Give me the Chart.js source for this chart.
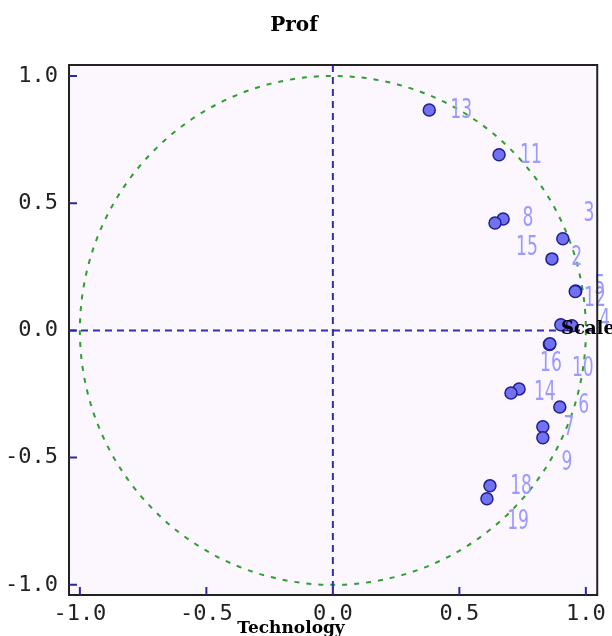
<!DOCTYPE html>
<html>
<head>
<meta charset="utf-8">
<script src="https://cdn.jsdelivr.net/npm/chart.js@4"></script>
<style>
  html, body { margin: 0; padding: 0; background: #fff; }
  #wrap { width: 612px; height: 636px; }
</style>
</head>
<body>
<div id="wrap"><canvas id="chart" width="612" height="636"></canvas></div>
<script>
// --- loadings (variable 1..19) on the two components ---
const varLabels = ['1', '2', '3', '4', '5', '6', '7', '8', '9', '10',
                   '11', '12', '13', '14', '15', '16', '17', '18', '19'];
const loadX = [0.945, 0.866, 0.909, 0.901, 0.960, 0.897, 0.830, 0.673, 0.830, 0.856,
               0.657, 0.958, 0.381, 0.736, 0.641, 0.858, 0.704, 0.621, 0.609];
const loadY = [0.018, 0.281, 0.360, 0.022, 0.155, -0.301, -0.379, 0.438, -0.422, -0.055,
               0.690, 0.153, 0.866, -0.230, 0.422, -0.053, -0.246, -0.611, -0.662];
// where each number label sits (data units); '' = not visible in the picture
const labelText = ['', '2', '3', '4', '5', '6', '7', '8', '9', '10',
                   '11', '12', '13', '14', '15', '16', '', '18', '19'];
const labelX = [1.08, 0.964, 1.012, 1.075, 1.055, 0.992, 0.933, 0.771, 0.925, 0.988,
                0.783, 1.036, 0.507, 0.838, 0.767, 0.862, 0.80, 0.744, 0.732];
const labelY = [0.000, 0.289, 0.462, 0.041, 0.175, -0.293, -0.379, 0.442, -0.517, -0.147,
                0.690, 0.128, 0.866, -0.242, 0.328, -0.128, -0.25, -0.611, -0.752];
const tickValues = [-1.0, -0.5, 0.0, 0.5, 1.0];

const points = loadX.map((x, i) => ({ x, y: loadY[i] }));

const decor = {
    id: 'decor',
    beforeDraw(chart) {
        const { ctx, chartArea: a } = chart;
        ctx.save();
        ctx.fillStyle = '#ffffff';
        ctx.fillRect(0, 0, chart.width, chart.height);
        ctx.fillStyle = '#fcf7ff';
        ctx.fillRect(a.left, a.top, a.right - a.left, a.bottom - a.top);
        ctx.restore();
    },
    beforeDatasetsDraw(chart) {
        const { ctx, chartArea: a, scales: { x, y } } = chart;
        const x0 = x.getPixelForValue(0), y0 = y.getPixelForValue(0);
        ctx.save();
        // unit circle
        ctx.strokeStyle = '#2f9e2f';
        ctx.lineWidth = 2;
        ctx.setLineDash([5, 7]);
        ctx.beginPath();
        ctx.ellipse(x0, y0, x.getPixelForValue(1) - x0, y0 - y.getPixelForValue(1), 0, 0, Math.PI * 2);
        ctx.stroke();
        // zero axes
        ctx.strokeStyle = '#3030a8';
        ctx.setLineDash([7, 5]);
        ctx.beginPath();
        ctx.moveTo(a.left, y0); ctx.lineTo(a.right, y0);
        ctx.moveTo(x0, a.top); ctx.lineTo(x0, a.bottom);
        ctx.stroke();
        ctx.restore();
    },
    afterDatasetsDraw(chart) {
        const { ctx, chartArea: a, scales: { x, y } } = chart;
        ctx.save();
        // variable numbers (tall, narrow digits)
        ctx.fillStyle = '#9a9aff';
        ctx.font = "26px 'DejaVu Sans', sans-serif";
        ctx.textAlign = 'center';
        ctx.textBaseline = 'middle';
        labelText.forEach((t, i) => {
            if (!t) return;
            ctx.save();
            ctx.translate(x.getPixelForValue(labelX[i]), y.getPixelForValue(labelY[i]));
            ctx.scale(0.66, 1);
            ctx.fillText(t, 0, 1);
            ctx.restore();
        });
        // frame
        ctx.strokeStyle = '#222';
        ctx.lineWidth = 2;
        ctx.strokeRect(a.left, a.top, a.right - a.left, a.bottom - a.top);
        // inward ticks
        ctx.strokeStyle = '#2a2aa0';
        ctx.beginPath();
        tickValues.forEach(v => {
            const px = x.getPixelForValue(v), py = y.getPixelForValue(v);
            ctx.moveTo(px, a.bottom); ctx.lineTo(px, a.bottom - 8);
            ctx.moveTo(a.left, py); ctx.lineTo(a.left + 8, py);
        });
        ctx.stroke();
        // titles
        ctx.fillStyle = '#000';
        ctx.font = "bold 20px 'DejaVu Serif', serif";
        ctx.textAlign = 'center';
        ctx.fillText('Prof', 294, 26);
        ctx.font = "bold 17px 'DejaVu Serif', serif";
        ctx.fillText('Technology', 291, 629);
        ctx.font = "bold 18px 'DejaVu Serif', serif";
        ctx.textAlign = 'left';
        ctx.fillText('Scale', 561, 329);
        ctx.restore();
    }
};

const axisFont = { family: "'DejaVu Sans Mono', monospace", size: 22 };

new Chart(document.getElementById('chart'), {
    type: 'scatter',
    data: {
        datasets: [{
            data: points,
            backgroundColor: '#7272ee',
            borderColor: '#1e1e96',
            borderWidth: 1.5,
            pointRadius: 6,
            pointHoverRadius: 6
        }]
    },
    options: {
        responsive: false,
        animation: false,
        devicePixelRatio: 1,
        layout: { padding: { left: 8, top: 65, right: 13, bottom: 0 } },
        plugins: { legend: { display: false }, tooltip: { enabled: false } },
        scales: {
            x: {
                type: 'linear', min: -1.043, max: 1.045,
                afterBuildTicks: s => { s.ticks = tickValues.map(v => ({ value: v })); },
                afterFit: s => { s.height = 41; },
                grid: { display: false, drawTicks: false },
                border: { display: false },
                ticks: { color: '#222', font: axisFont, padding: 6, maxRotation: 0,
                         callback: v => Number(v).toFixed(1) }
            },
            y: {
                type: 'linear', min: -1.04, max: 1.043,
                afterBuildTicks: s => { s.ticks = tickValues.map(v => ({ value: v })); },
                afterFit: s => { s.width = 61; },
                grid: { display: false, drawTicks: false },
                border: { display: false },
                ticks: { color: '#222', font: axisFont, padding: 11,
                         callback: v => Number(v).toFixed(1) }
            }
        }
    },
    plugins: [decor]
});
</script>
</body>
</html>
